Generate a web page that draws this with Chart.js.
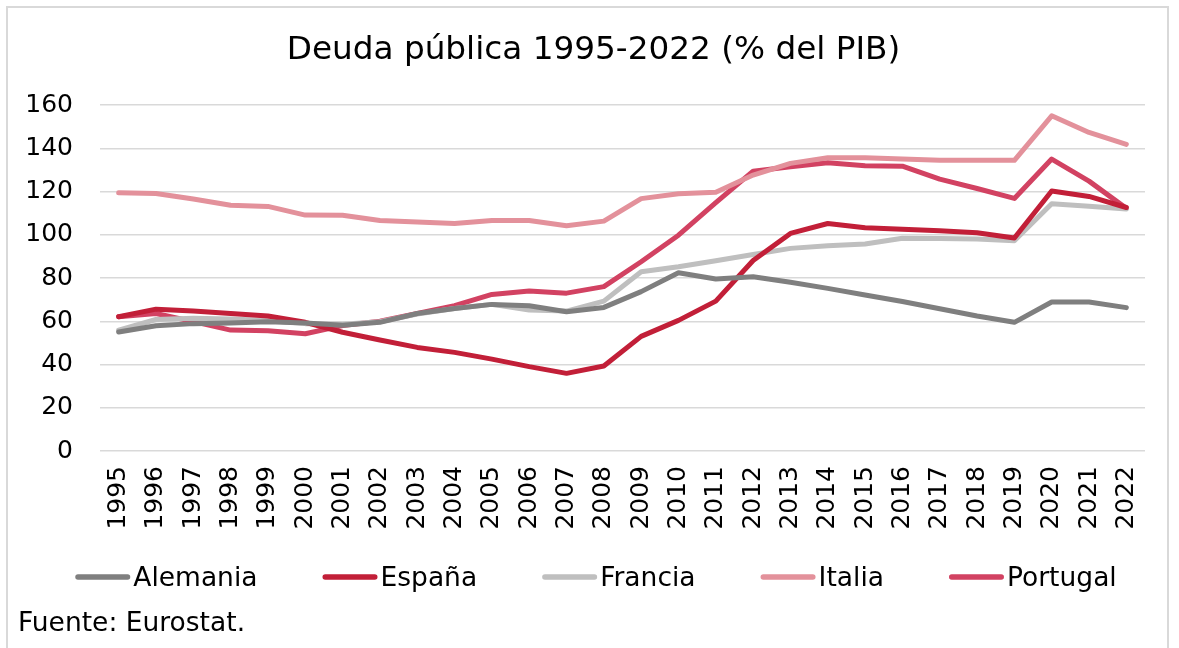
<!DOCTYPE html>
<html lang="es">
<head>
<meta charset="utf-8">
<title>Deuda pública 1995-2022</title>
<script src="https://cdn.jsdelivr.net/npm/chart.js@4.4.1/dist/chart.umd.min.js"></script>
<style>
  html, body { margin: 0; padding: 0; background: #fff; }
  body { width: 1179px; height: 648px; position: relative; overflow: hidden; }
  .marco { position: absolute; left: 6px; top: 6px; width: 1159px; height: 700px; border: 2px solid #d9d9d9; }
  .lienzo { position: absolute; left: 0; top: 0; width: 1179px; height: 648px; }
</style>
</head>
<body>
<div class="marco"></div>
<div class="lienzo"><canvas id="deuda-chart" width="1179" height="648"></canvas></div>

<script>
/* =========================================================
   Deuda pública 1995-2022 (% del PIB) - Fuente: Eurostat
   ========================================================= */

const titulo = 'Deuda pública 1995-2022 (% del PIB)';
const fuente = 'Fuente: Eurostat.';

const anios = ['1995','1996','1997','1998','1999','2000','2001','2002','2003','2004',
  '2005','2006','2007','2008','2009','2010','2011','2012','2013','2014',
  '2015','2016','2017','2018','2019','2020','2021','2022'];

const alemania = [55.0, 57.9, 58.9, 59.2, 59.8, 59.2, 58.2, 59.5, 63.6, 65.9,
  67.8, 67.2, 64.4, 66.4, 73.7, 82.4, 79.5, 80.6, 78.0, 75.2,
  72.1, 69.1, 65.8, 62.4, 59.5, 68.9, 68.9, 66.3];

const espana = [62.1, 65.6, 64.7, 63.6, 62.4, 59.5, 54.9, 51.3, 47.9, 45.6,
  42.5, 39.0, 35.9, 39.3, 53.0, 60.4, 69.3, 88.1, 100.6, 105.2,
  103.2, 102.6, 101.8, 100.9, 98.5, 120.2, 117.7, 112.6];

const francia = [55.9, 60.8, 61.4, 61.0, 60.4, 58.9, 58.6, 59.8, 63.3, 65.9,
  67.8, 65.2, 64.7, 69.3, 82.9, 85.2, 88.0, 90.9, 93.7, 94.9,
  95.7, 98.4, 98.3, 98.0, 97.2, 114.3, 113.2, 111.9];

const italia = [119.4, 119.1, 116.5, 113.6, 113.1, 109.1, 109.0, 106.6, 105.9, 105.2,
  106.6, 106.6, 104.2, 106.3, 116.7, 119.0, 119.7, 127.6, 133.0, 135.6,
  135.6, 135.0, 134.4, 134.5, 134.4, 155.0, 147.3, 141.8];

const portugal = [62.1, 63.6, 59.8, 55.9, 55.6, 54.2, 58.0, 60.0, 63.6, 67.2,
  72.4, 74.0, 73.0, 76.0, 87.5, 99.8, 114.9, 129.4, 131.4, 133.3,
  131.9, 131.7, 125.7, 121.4, 116.8, 135.0, 124.8, 112.2];

const yTicks = [0, 20, 40, 60, 80, 100, 120, 140, 160];

const FUENTE = '"DejaVu Sans", Verdana, sans-serif';

const serie = (label, data, color) => ({
  label,
  data,
  borderColor: color,
  backgroundColor: color,
  borderWidth: 5,
  pointRadius: 0,
  pointHoverRadius: 0,
  tension: 0,
  fill: false,
  borderJoinStyle: 'round',
  borderCapStyle: 'round'
});

// titulo, leyenda (linea + texto pegado) y fuente, dibujados a mano
const textosPlugin = {
  id: 'textosExcel',
  afterDraw(chart) {
    const ctx = chart.ctx;
    ctx.save();
    ctx.fillStyle = '#000';
    ctx.textBaseline = 'alphabetic';

    ctx.font = '32.7px ' + FUENTE;
    ctx.textAlign = 'center';
    ctx.fillText(titulo, 593.5, 59);

    const marca = 55, hueco = 3, sep = 65;
    const yLinea = 577, yTexto = 586;
    ctx.font = '26.5px ' + FUENTE;
    ctx.textAlign = 'left';
    const items = chart.data.datasets.map(ds => ({
      label: ds.label,
      color: ds.borderColor,
      w: marca + hueco + ctx.measureText(ds.label).width
    }));
    const total = items.reduce((s, it) => s + it.w, 0) + sep * (items.length - 1);
    let x = 596 - total / 2;
    items.forEach(it => {
      ctx.strokeStyle = it.color;
      ctx.lineWidth = 5.5;
      ctx.lineCap = 'round';
      ctx.beginPath();
      ctx.moveTo(x + 2.75, yLinea);
      ctx.lineTo(x + marca - 2.75, yLinea);
      ctx.stroke();
      ctx.fillText(it.label, x + marca + hueco, yTexto);
      x += it.w + sep;
    });

    ctx.fillText(fuente, 18, 631);
    ctx.restore();
  }
};

new Chart(document.getElementById('deuda-chart'), {
  type: 'line',
  data: {
    labels: anios,
    datasets: [
      serie('Alemania', alemania, '#7f7f7f'),
      serie('España', espana, '#c21f38'),
      serie('Francia', francia, '#bfbfbf'),
      serie('Italia', italia, '#e3919b'),
      serie('Portugal', portugal, '#d24262')
    ]
  },
  options: {
    responsive: false,
    animation: false,
    events: [],
    layout: { padding: { left: 25, right: 34, top: 105, bottom: 117 } },
    plugins: {
      legend: { display: false },
      tooltip: { enabled: false },
      title: { display: false }
    },
    scales: {
      x: {
        offset: true,
        grid: { display: false, drawTicks: false },
        border: { display: false },
        afterFit: axis => { axis.height = 80; },
        ticks: {
          color: '#000',
          font: { family: FUENTE, size: 25 },
          minRotation: 90,
          maxRotation: 90,
          autoSkip: false,
          padding: 15
        }
      },
      y: {
        min: 0,
        max: 160,
        afterBuildTicks: axis => { axis.ticks = yTicks.map(v => ({ value: v })); },
        afterFit: axis => { axis.width = 75; },
        grid: { color: '#d9d9d9', lineWidth: 1.5, drawTicks: false },
        border: { display: false },
        ticks: {
          color: '#000',
          font: { family: FUENTE, size: 25 },
          padding: 27
        }
      }
    }
  },
  plugins: [textosPlugin]
});
</script>
</body>
</html>
